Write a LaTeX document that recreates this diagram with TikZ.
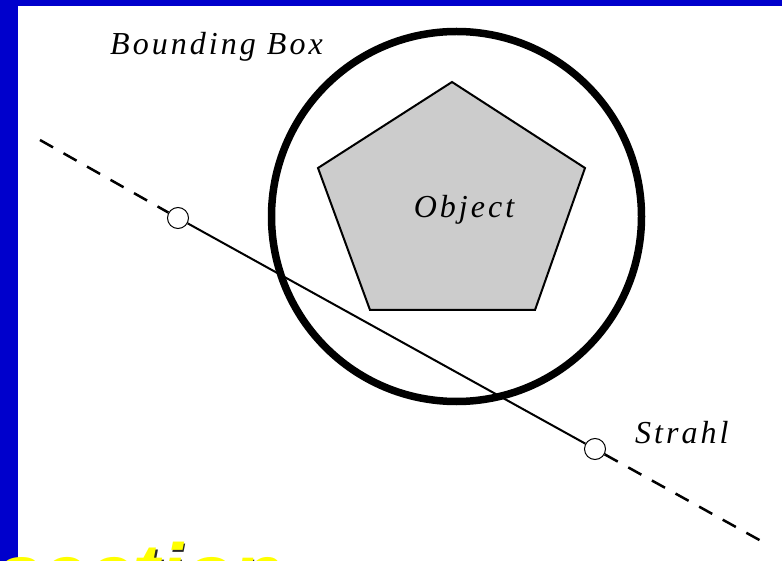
\documentclass[tikz,border=0pt]{standalone}
\usepackage{fontspec}
\setmainfont{Liberation Serif}
\newfontfamily\labelfont[LetterSpace=9.5]{Liberation Serif}
\newfontfamily\titlefont{Liberation Sans}
\definecolor{frameblue}{HTML}{0000CC}
\definecolor{objgray}{HTML}{CCCCCC}
\definecolor{titleyellow}{HTML}{FFFF00}
\begin{document}
\begin{tikzpicture}[x=1pt,y=-1pt,
  lbl/.style={font=\labelfont\itshape\fontsize{32}{36}\selectfont, inner sep=0pt},
  endpt/.style={circle, draw, line width=1pt, fill=white, minimum size=21pt, inner sep=0pt},
  dashray/.style={line width=2.5pt, dash pattern=on 15pt off 12pt},
  title/.style={font=\titlefont\bfseries\itshape\fontsize{82}{90}\selectfont, inner sep=0pt, anchor=base west}]
\useasboundingbox (0,0) rectangle (782,561);
\clip (0,0) rectangle (782,561);
% frame
\fill[frameblue] (0,0) rectangle (782,6);
\fill[frameblue] (0,0) rectangle (18,561);
% bounding circle
\draw[line width=7.5pt] (456.5,216.5) circle[radius=185];
% object pentagon
\draw[line width=2pt, fill=objgray, line join=miter] (452,82) -- (585,168) -- (535,310) -- (370,310) -- (318,168) -- cycle;
\node[lbl, anchor=base] (obj) at (464,218) {Object};
\node[lbl, anchor=base west] (bb) at (110,55) {Bounding Box};
% ray
\coordinate (rs) at (40,140);
\coordinate (re) at (763,542);
\node[endpt] (p1) at (178,218) {};
\node[endpt] (p2) at (595,449) {};
\draw[dashray] (rs) -- (p1);
\draw[dashray] (p2) -- (re);
\draw[line width=2pt] (p1) -- (p2);
\node[lbl, anchor=base west] (st) at (635,443) {Strahl};
% title
\node[title, text=black!85] (secs) at (-2.5,603.5) {section};
\node[title, text=titleyellow] (sec) at (-4,601) {section};
\end{tikzpicture}
\end{document}
